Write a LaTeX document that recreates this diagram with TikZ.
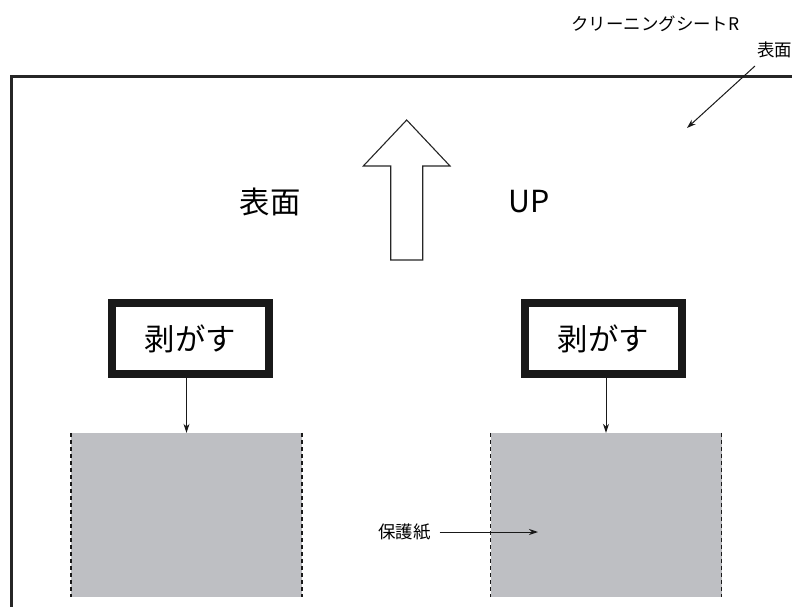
\documentclass[tikz,border=0pt]{standalone}
\usepackage{fontspec}
\setmainfont{Noto Sans CJK JP}
\usetikzlibrary{arrows.meta}
\definecolor{paper}{RGB}{190,191,195}
\tikzset{
  frameline/.style={line width=3bp, black!85},
  peelbox/.style={draw=black!90, line width=8bp, minimum width=157bp, minimum height=71bp, inner sep=0pt, font=\fontsize{30.5}{34}\selectfont},
  sheet/.style={fill=paper, minimum width=231bp, minimum height=164bp, inner sep=0pt},
  cutline/.style={black!90, line width=1.5bp, dash pattern=on 4bp off 3bp},
  thinarrow/.style={line width=1bp, black!90, -{Stealth[length=9bp,width=6bp]}},
  bigtext/.style={font=\fontsize{30.5}{34}\selectfont, inner sep=0pt},
  smalltext/.style={font=\fontsize{17.5}{20}\selectfont, inner sep=0pt},
}
\begin{document}
\begin{tikzpicture}[x=1bp, y=-1bp]
\useasboundingbox (0,0) rectangle (792,607);
% frame of cleaning sheet
\draw[frameline] (800,76.5) -- (11.5,76.5) -- (11.5,615);
% top labels
\node[smalltext] (title) at (655.5,24) {クリーニングシートR};
\node[smalltext, anchor=west] (surf) at (757,50) {表面};
\coordinate (leadstart) at (755,66);
\coordinate (leadend) at (687,128);
\draw[thinarrow] (leadstart) -- (leadend);
% big up arrow
\draw[line width=1.1bp, black!85, fill=white]
  (406.7,120) -- (450,166) -- (422.7,166) -- (422.7,260) -- (390.7,260) -- (390.7,166) -- (363.3,166) -- cycle;
\node[bigtext] (omote) at (270,202) {表面};
\node[bigtext] (up) at (529,202) {UP};
% peel boxes
\node[peelbox] (box1) at (190.5,338.5) {剥がす};
\node[peelbox] (box2) at (603.5,338.5) {剥がす};
% protective paper sheets
\node[sheet] (sheet1) at (186.5,515) {};
\node[sheet] (sheet2) at (606,515) {};
\draw[cutline] (sheet1.north west) -- (sheet1.south west);
\draw[cutline] (sheet1.north east) -- (sheet1.south east);
\draw[cutline] (sheet2.north west) -- (sheet2.south west);
\draw[cutline] (sheet2.north east) -- (sheet2.south east);
% arrows from boxes
\draw[thinarrow] (sheet1.north |- box1.south) -- (sheet1.north);
\draw[thinarrow] (sheet2.north |- box2.south) -- (sheet2.north);
% protective paper label
\node[smalltext, anchor=west] (hogo) at (378,532) {保護紙};
\coordinate (hogoend) at (538,532);
\draw[thinarrow] ([xshift=9bp]hogo.east) -- (hogoend);
\end{tikzpicture}
\end{document}
